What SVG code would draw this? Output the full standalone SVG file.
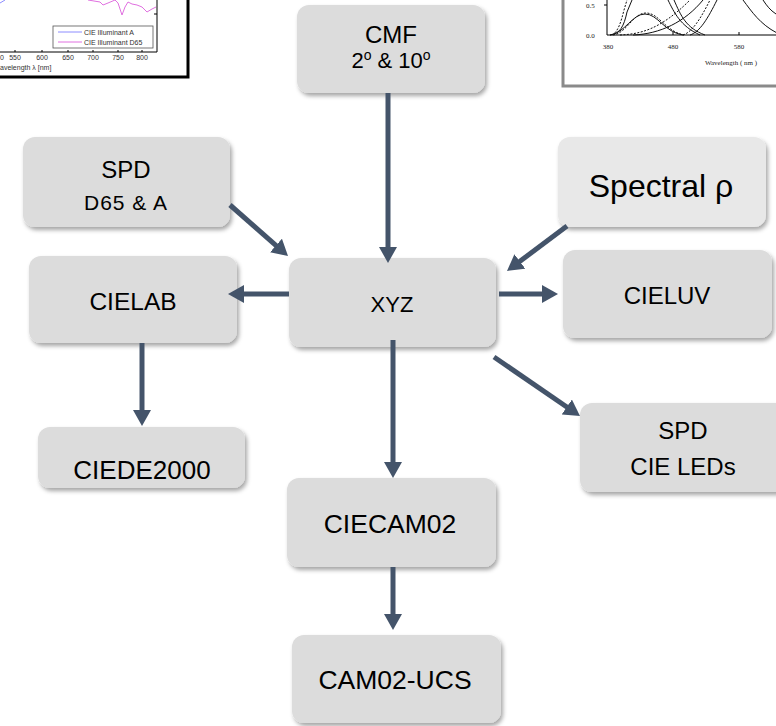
<svg xmlns="http://www.w3.org/2000/svg" width="776" height="726" viewBox="0 0 776 726">
<defs>
<filter id="sh" x="-10%" y="-10%" width="125%" height="130%">
<feDropShadow dx="2" dy="3" stdDeviation="2" flood-color="#000" flood-opacity="0.35"/>
</filter>
<marker id="ah" markerUnits="userSpaceOnUse" viewBox="0 0 16 18" refX="4" refY="9" markerWidth="16" markerHeight="18" orient="auto">
<path d="M0,0 L16,9 L0,18 z" fill="#44546a"/>
</marker>
<style>
.box{fill:#dcdcdc;filter:url(#sh)}
.lt{fill:#e8e8e8}
.t{font-family:"Liberation Sans",Arial,sans-serif;fill:#000;text-anchor:middle}
.c{stroke:#44546a;stroke-width:5;fill:none;marker-end:url(#ah)}
.ax{stroke:#000;stroke-width:1;fill:none}
.s1{font-family:"Liberation Sans",Arial,sans-serif;font-size:7px;fill:#333}
.s2{font-family:"Liberation Serif","Times New Roman",serif;font-size:7px;fill:#222}
.cv{stroke:#111;stroke-width:1;fill:none}
.cd{stroke:#111;stroke-width:1;fill:none;stroke-dasharray:2,1.5}
</style>
</defs>
<rect width="776" height="726" fill="#fff"/>

<g id="chart-illuminants">
<rect x="-5" y="-5" width="193" height="82" fill="#fff" stroke="#000" stroke-width="3"/>
<path class="ax" d="M0,52 H157 V0"/>
<path class="ax" d="M154,14 H157 M15,52 V50 M42,52 V50 M68,52 V50 M93,52 V50 M118,52 V50 M142,52 V50"/>
<path d="M0,3 L5,0" stroke="#8c8cff" stroke-width="1" fill="none"/>
<path d="M88,0 L100,2 L103,5 L108,3 L115,0 L118,3 L122,15 L125,7 L128,2 L132,4 L137,5 L142,7 L147,12 L152,9 L156,7" stroke="#e070e0" stroke-width="1" fill="none"/>
<rect x="53" y="26" width="100" height="22" fill="#fff" stroke="#555" stroke-width="0.8"/>
<line x1="58" y1="32" x2="82" y2="32" stroke="#8c8cff" stroke-width="1"/>
<line x1="58" y1="42" x2="82" y2="42" stroke="#e070e0" stroke-width="1"/>
<text class="s1" x="84" y="35">CIE Illuminant A</text>
<text class="s1" x="84" y="45">CIE Illuminant D65</text>
<g class="s1" text-anchor="middle">
<text x="2" y="60">0</text>
<text x="15" y="60">550</text>
<text x="42" y="60">600</text>
<text x="68" y="60">650</text>
<text x="93" y="60">700</text>
<text x="118" y="60">750</text>
<text x="142" y="60">800</text>
</g>
<text class="s1" x="0" y="70">avelength λ [nm]</text>
</g>

<g id="chart-cmf">
<rect x="563" y="-5" width="220" height="91" fill="#fff" stroke="#8a8a8a" stroke-width="3"/>
<path class="ax" d="M607,0 V35 H776"/>
<path class="ax" d="M604,5 H607 M673,35 V32 M739,35 V32"/>
<path class="cv" d="M610,35 C620,34 624,26 627,12 L632,0"/>
<path class="cd" d="M612,35 C618,32 621,22 624,10 L627,0"/>
<path class="cv" d="M610,35 C625,33 632,14 645,14 C658,14 664,32 683,35"/>
<path class="cd" d="M613,35 C627,33 633,13 646,13 C659,13 665,31 684,35"/>
<path class="cv" d="M668,0 C674,12 680,26 700,35"/>
<path class="cv" d="M674,0 C681,16 686,28 705,35"/>
<path class="cd" d="M620,35 C640,34 660,30 690,0"/>
<path class="cv" d="M633,35 C660,34 685,22 703,0"/>
<path class="cd" d="M683,35 C692,32 700,20 710,0"/>
<path class="cv" d="M690,35 C700,32 708,18 717,0"/>
<path class="cv" d="M743,0 C752,12 760,24 777,33"/>
<path class="cv" d="M763,0 C767,6 770,10 776,14"/>
<text class="s2" x="586" y="8">0.5</text>
<text class="s2" x="586" y="38">0.0</text>
<g class="s2" text-anchor="middle">
<text x="608" y="49">380</text>
<text x="673" y="49">480</text>
<text x="739" y="49">580</text>
<text x="731" y="65">Wavelength ( nm )</text>
</g>
</g>

<g id="node-cmf">
<rect class="box" x="297" y="5" width="188" height="88" rx="12"/>
<text class="t" x="391" y="43" font-size="24">CMF</text>
<text class="t" x="391" y="68" font-size="22">2<tspan dy="-8" font-size="14">o</tspan><tspan dy="8"> &amp; 10</tspan><tspan dy="-8" font-size="14">o</tspan></text>
</g>
<g id="node-spd-d65">
<rect class="box" x="23" y="137" width="207" height="90" rx="12"/>
<text class="t" x="126" y="178" font-size="24">SPD</text>
<text class="t" x="126" y="210" font-size="21" letter-spacing="1">D65 &amp; A</text>
</g>
<g id="node-spectral">
<rect class="box lt" x="558" y="137" width="208" height="90" rx="12"/>
<text class="t" x="661" y="197" font-size="32">Spectral ρ</text>
</g>
<g id="node-cielab">
<rect class="box" x="29" y="256" width="208" height="87" rx="12"/>
<text class="t" x="133" y="310" font-size="24.5">CIELAB</text>
</g>
<g id="node-xyz">
<rect class="box" x="289" y="258" width="207" height="89" rx="12"/>
<text class="t" x="392" y="312" font-size="22">XYZ</text>
</g>
<g id="node-cieluv">
<rect class="box" x="563" y="250" width="209" height="88" rx="12"/>
<text class="t" x="667" y="304" font-size="24">CIELUV</text>
</g>
<g id="node-ciede2000">
<rect class="box" x="38" y="427" width="207" height="61" rx="12"/>
<text class="t" x="142" y="479" font-size="26">CIEDE2000</text>
</g>
<g id="node-spd-leds">
<rect class="box" x="580" y="403" width="210" height="89" rx="12"/>
<text class="t" x="683" y="439" font-size="24">SPD</text>
<text class="t" x="683" y="475" font-size="24">CIE LEDs</text>
</g>
<g id="node-ciecam02">
<rect class="box" x="287" y="478" width="209" height="89" rx="12"/>
<text class="t" x="390" y="533" font-size="26.5">CIECAM02</text>
</g>
<g id="node-cam02ucs">
<rect class="box" x="292" y="635" width="209" height="88" rx="12"/>
<text class="t" x="395" y="689" font-size="26.5">CAM02-UCS</text>
</g>

<g id="connectors">
<line class="c" x1="388" y1="93" x2="388" y2="251"/>
<line class="c" x1="230" y1="205" x2="279" y2="248.1"/>
<line class="c" x1="567" y1="226" x2="516.6" y2="263.8"/>
<line class="c" x1="289" y1="294" x2="240" y2="294"/>
<line class="c" x1="499" y1="294" x2="546" y2="294"/>
<line class="c" x1="142" y1="343" x2="142" y2="414"/>
<line class="c" x1="393" y1="340" x2="393" y2="466"/>
<line class="c" x1="494" y1="357" x2="570.1" y2="409.2"/>
<line class="c" x1="393" y1="567" x2="393" y2="618"/>
</g>
</svg>
